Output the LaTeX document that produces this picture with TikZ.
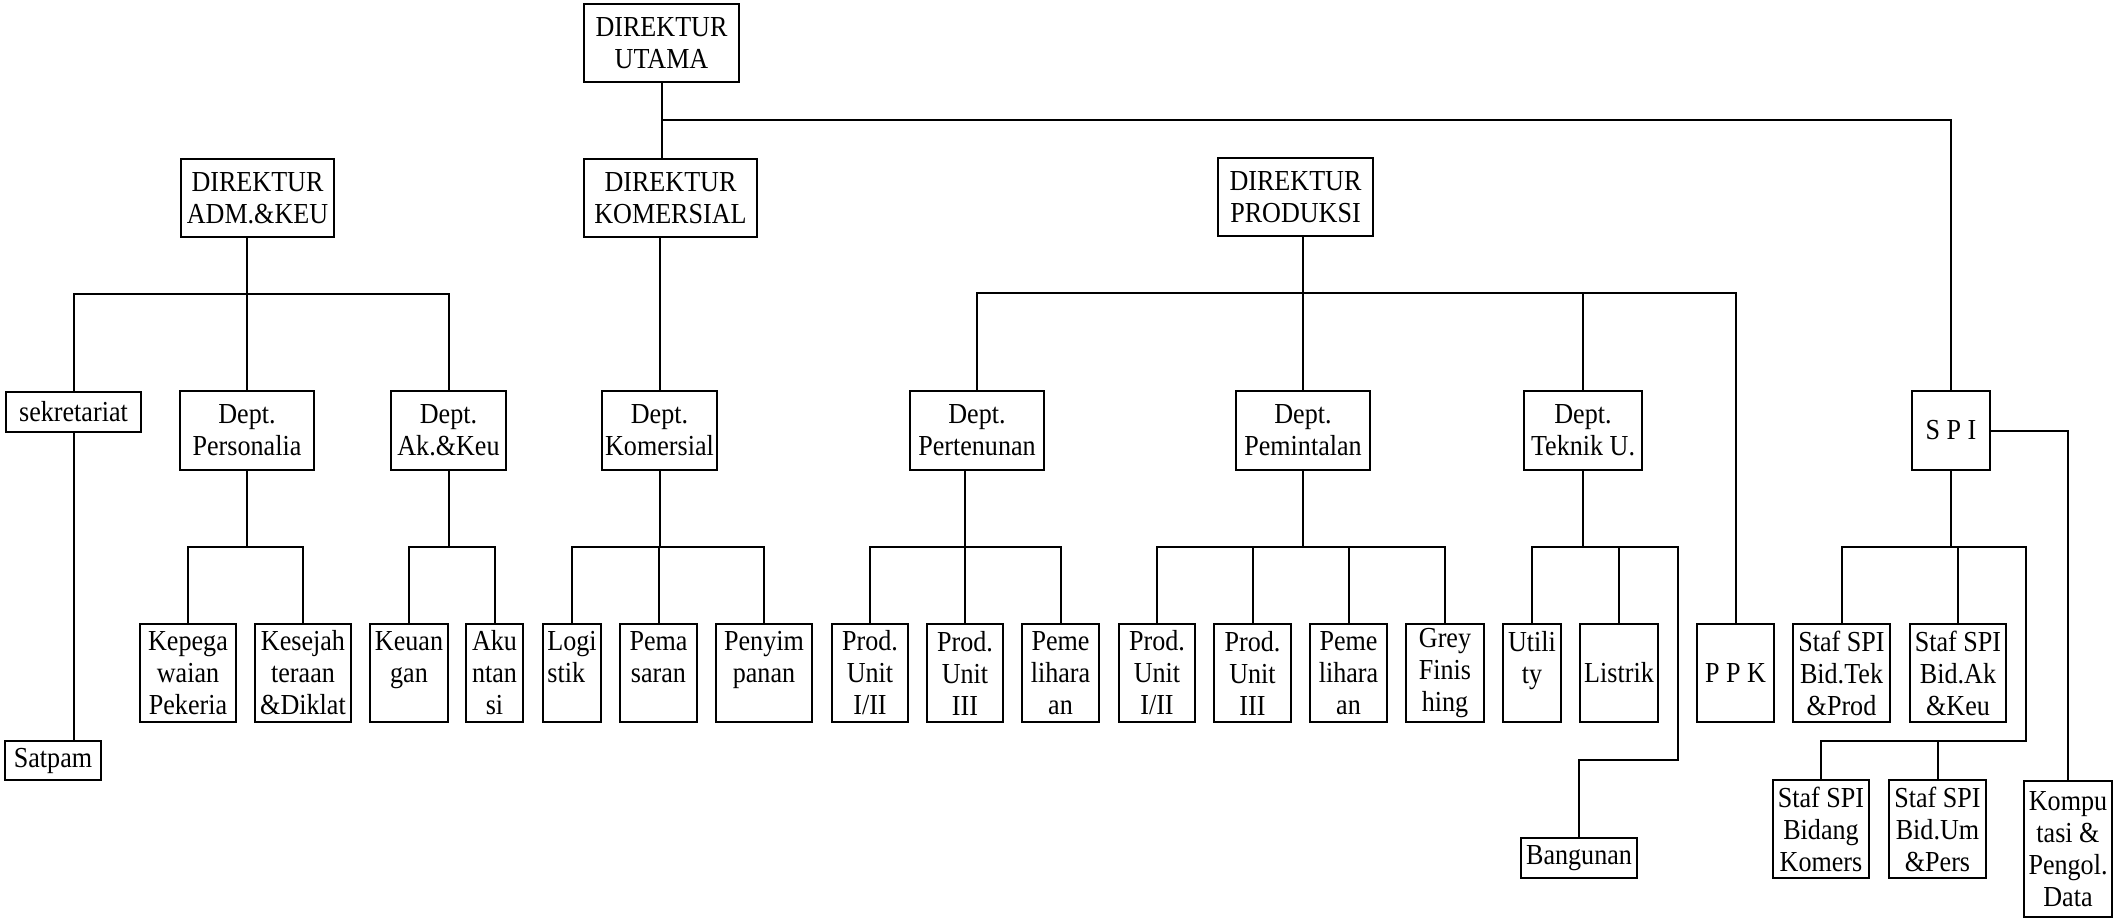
\documentclass[tikz,border=0pt]{standalone}
\usepackage{fontspec}
\setmainfont{Liberation Serif}[FakeStretch=0.9]
\newcommand\orgfont{\fontsize{14.5}{16}\selectfont}
\tikzset{orgbox/.style={draw, line width=1pt, align=center, inner sep=1pt, font=\orgfont}}
\tikzset{leafbox/.style={orgbox, minimum height=49pt}}
\tikzset{link/.style={line width=1pt}}

\begin{document}
\begin{tikzpicture}[x=0.5pt,y=-0.5pt]
\useasboundingbox (0,0) rectangle (2115,918);

% direksi
\node[orgbox, minimum width=77.5pt, minimum height=39pt] (utama) at (661.5,43) {DIREKTUR\\UTAMA};
\node[orgbox, minimum width=76.5pt, minimum height=39pt] (adm) at (257.5,198) {DIREKTUR\\ADM.\&KEU};
\node[orgbox, minimum width=86.5pt, minimum height=39pt] (dirkom) at (670.5,198) {DIREKTUR\\KOMERSIAL};
\node[orgbox, minimum width=77.5pt, minimum height=39pt] (dirprod) at (1295.5,197) {DIREKTUR\\PRODUKSI};

% departemen
\node[orgbox, minimum width=67.5pt, minimum height=20pt] (sek) at (73.5,412) {sekretariat};
\node[orgbox, minimum width=67pt, minimum height=39.5pt] (pers) at (247,430.5) {Dept.\\Personalia};
\node[orgbox, minimum width=57.5pt, minimum height=39.5pt] (akkeu) at (448.5,430.5) {Dept.\\Ak.\&Keu};
\node[orgbox, minimum width=57.5pt, minimum height=39.5pt] (dkom) at (659.5,430.5) {Dept.\\Komersial};
\node[orgbox, minimum width=67pt, minimum height=39.5pt] (pert) at (977,430.5) {Dept.\\Pertenunan};
\node[orgbox, minimum width=67pt, minimum height=39.5pt] (pemint) at (1303,430.5) {Dept.\\Pemintalan};
\node[orgbox, minimum width=59pt, minimum height=39.5pt] (tek) at (1583,430.5) {Dept.\\Teknik U.};
\node[orgbox, minimum width=39pt, minimum height=39.5pt] (spi) at (1951,430.5) {S P I};

% seksi
\node[leafbox, minimum width=48pt] (kepeg) at (188,673) {Kepega\\waian\\Pekeria};
\node[leafbox, minimum width=48pt] (kesej) at (303,673) {Kesejah\\teraan\\\&Diklat};
\node[leafbox, minimum width=39pt] (keuan) at (409,673) {Keuan\\gan\\\mbox{}};
\node[leafbox, minimum width=28.5pt] (akun) at (494.5,673) {Aku\\ntan\\si};
\node[leafbox, minimum width=29pt, align=left] (logi) at (572,673) {Logi\\stik\\\mbox{}};
\node[leafbox, minimum width=38.5pt] (pemas) at (658.5,673) {Pema\\saran\\\mbox{}};
\node[leafbox, minimum width=48pt] (penyim) at (764,673) {Penyim\\panan\\\mbox{}};
\node[leafbox, minimum width=38pt] (pu1) at (870,673) {Prod.\\Unit\\I/II};
\node[leafbox, minimum width=38pt] (pu3) at (965,673) {Prod.\\Unit\\III};
\node[leafbox, minimum width=38.5pt] (peme1) at (1060.5,673) {Peme\\lihara\\an};
\node[leafbox, minimum width=38pt] (pu1b) at (1157,673) {Prod.\\Unit\\I/II};
\node[leafbox, minimum width=38.5pt] (pu3b) at (1252.5,673) {Prod.\\Unit\\III};
\node[leafbox, minimum width=38.5pt] (peme2) at (1348.5,673) {Peme\\lihara\\an};
\node[leafbox, minimum width=39pt] (grey) at (1445,673) {Grey\\Finis\\hing};
\node[leafbox, minimum width=29pt] (util) at (1532,673) {Utili\\ty\\\mbox{}};
\node[leafbox, minimum width=39pt] (listrik) at (1619,673) {Listrik};
\node[leafbox, minimum width=38.5pt] (ppk) at (1735.5,673) {P P K};
\node[leafbox, minimum width=48.5pt] (stek) at (1841.5,673) {Staf SPI\\Bid.Tek\\\&Prod};
\node[leafbox, minimum width=48pt] (sak) at (1958,673) {Staf SPI\\Bid.Ak\\\&Keu};

% paling bawah
\node[orgbox, minimum width=48pt, minimum height=19.5pt] (satpam) at (53,760.5) {Satpam};
\node[orgbox, minimum width=58pt, minimum height=20pt] (bang) at (1579,858) {Bangunan};
\node[leafbox, minimum width=48pt] (skom) at (1821,829) {Staf SPI\\Bidang\\Komers};
\node[leafbox, minimum width=48.5pt] (sum) at (1937.5,829) {Staf SPI\\Bid.Um\\\&Pers};
\node[orgbox, minimum width=44pt, minimum height=68pt] (kompu) at (2068,849) {Kompu\\tasi \&\\Pengol.\\Data};

% jalur garis
\coordinate (ymain) at (0,120);
\coordinate (yadm) at (0,294);
\coordinate (yprod) at (0,293);
\coordinate (ylow) at (0,547);
\coordinate (yspi) at (0,741);
\coordinate (ybang) at (0,760);
\coordinate (rtek) at (1678,547);
\coordinate (rspi) at (2026,547);

\draw[link] (utama.south) -- (utama.south |- dirkom.north);
\draw[link] (utama.south |- ymain) -| (spi.north);

\draw[link] (adm.south -| pers.north) -- (pers.north);
\draw[link] (sek.north) |- (akkeu.north |- yadm) -- (akkeu.north);
\draw[link] (sek.south) -- (sek.south |- satpam.north);

\draw[link] (dirkom.south -| dkom.north) -- (dkom.north);
\draw[link] (dirprod.south -| pemint.north) -- (pemint.north);
\draw[link] (pert.north) |- (ppk.north |- yprod) -- (ppk.north);
\draw[link] (tek.north) -- (tek.north |- yprod);

\draw[link] (pers.south) -- (pers.south |- ylow);
\draw[link] (kepeg.north) |- (kesej.north |- ylow) -- (kesej.north);
\draw[link] (akkeu.south) -- (akkeu.south |- ylow);
\draw[link] (keuan.north) |- (akun.north |- ylow) -- (akun.north);
\draw[link] (dkom.south) -- (dkom.south |- ylow);
\draw[link] (logi.north) |- (penyim.north |- ylow) -- (penyim.north);
\draw[link] (pemas.north) -- (pemas.north |- ylow);

\draw[link] (pert.south -| pu3.north) -- (pu3.north);
\draw[link] (pu1.north) |- (peme1.north |- ylow) -- (peme1.north);
\draw[link] (pemint.south) -- (pemint.south |- ylow);
\draw[link] (pu1b.north) |- (grey.north |- ylow) -- (grey.north);
\draw[link] (pu3b.north) -- (pu3b.north |- ylow);
\draw[link] (peme2.north) -- (peme2.north |- ylow);

\draw[link] (tek.south) -- (tek.south |- ylow);
\draw[link] (util.north) |- (rtek) |- (bang.north |- ybang) -- (bang.north);
\draw[link] (listrik.north) -- (listrik.north |- ylow);

\draw[link] (spi.south) -- (spi.south |- ylow);
\draw[link] (stek.north) |- (rspi) |- (skom.north |- yspi) -- (skom.north);
\draw[link] (sak.north) -- (sak.north |- ylow);
\draw[link] (sum.north) -- (sum.north |- yspi);
\draw[link] (spi.east) -| (kompu.north);
\end{tikzpicture}
\end{document}
